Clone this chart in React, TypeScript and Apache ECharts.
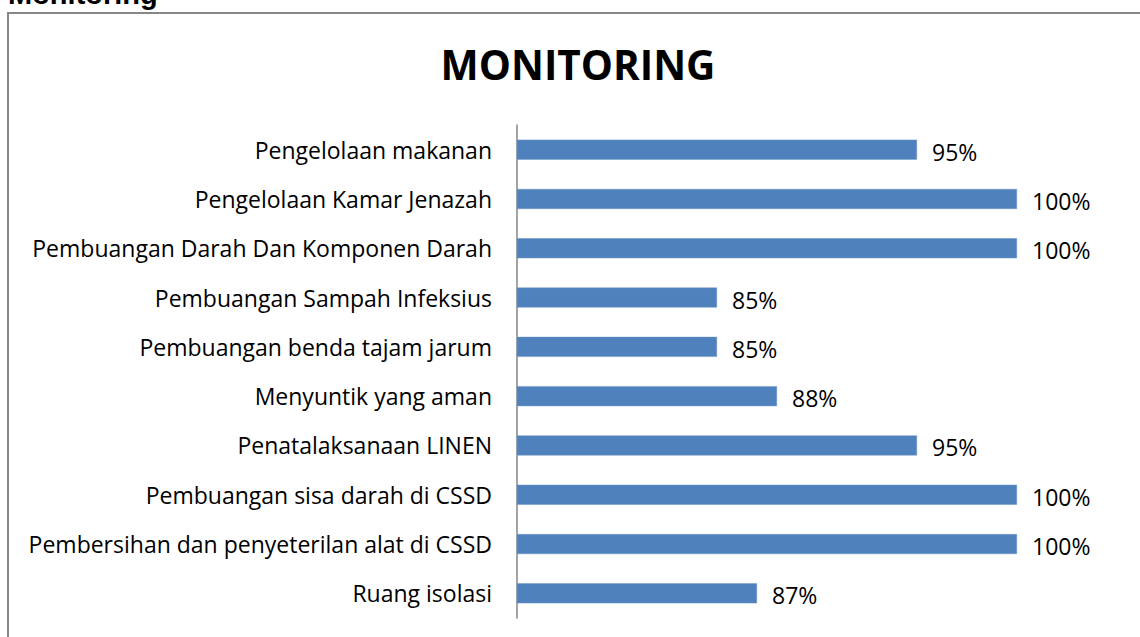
import React, { useEffect, useRef } from "react";
import * as echarts from "echarts";

const categories = [
  "Pengelolaan makanan",
  "Pengelolaan Kamar Jenazah",
  "Pembuangan Darah Dan Komponen Darah",
  "Pembuangan Sampah Infeksius",
  "Pembuangan benda tajam jarum",
  "Menyuntik yang aman",
  "Penatalaksanaan LINEN",
  "Pembuangan sisa darah di CSSD",
  "Pembersihan dan penyeterilan alat di CSSD",
  "Ruang isolasi",
];
const values = [95, 100, 100, 85, 85, 88, 95, 100, 100, 87];

export default function App() {
  const ref = useRef<HTMLDivElement>(null);
  useEffect(() => {
    if (!ref.current) return;
    const chart = echarts.init(ref.current, null, { renderer: "svg" });
    chart.setOption({
      animation: false,
      backgroundColor: "#ffffff",
      graphic: [
        {
          type: "rect",
          shape: { x: 8, y: 13, width: 1200, height: 700 },
          style: { fill: "none", stroke: "#878787", lineWidth: 2 },
        },
        {
          type: "text",
          x: 8,
          y: -21,
          style: {
            text: "Monitoring",
            font: "bold 29px 'Liberation Sans'",
            fill: "#000",
          },
        },
        {
          type: "text",
          x: 578,
          y: 64,
          style: {
            text: "MONITORING",
            font: "bold 40.5px 'Open Sans'",
            fill: "#000",
            textAlign: "center",
            textVerticalAlign: "middle",
          },
        },
      ],
      grid: { left: 517, right: 123, top: 125, bottom: 19, containLabel: false },
      xAxis: {
        type: "value",
        min: 75,
        max: 100,
        show: false,
      },
      yAxis: {
        type: "category",
        data: categories,
        inverse: true,
        axisLine: { show: true, lineStyle: { color: "#868686", width: 1.5 } },
        axisTick: { show: false },
        axisLabel: {
          fontFamily: "Open Sans",
          fontSize: 23,
          color: "#000",
          margin: 25,
        },
      },
      series: [
        {
          type: "bar",
          data: values,
          barWidth: 20,
          itemStyle: { color: "#4F81BD", borderColor: "#6E97C8", borderWidth: 0.5 },
          label: {
            show: true,
            position: "right",
            distance: 15,
            formatter: "{c}%",
            fontFamily: "Open Sans",
            fontSize: 23,
            color: "#000",
            offset: [0, 2],
          },
        },
      ],
    });
    return () => chart.dispose();
  }, []);
  return (
    <div
      ref={ref}
      style={{ position: "fixed", left: 0, top: 0, width: 1140, height: 637 }}
    />
  );
}
